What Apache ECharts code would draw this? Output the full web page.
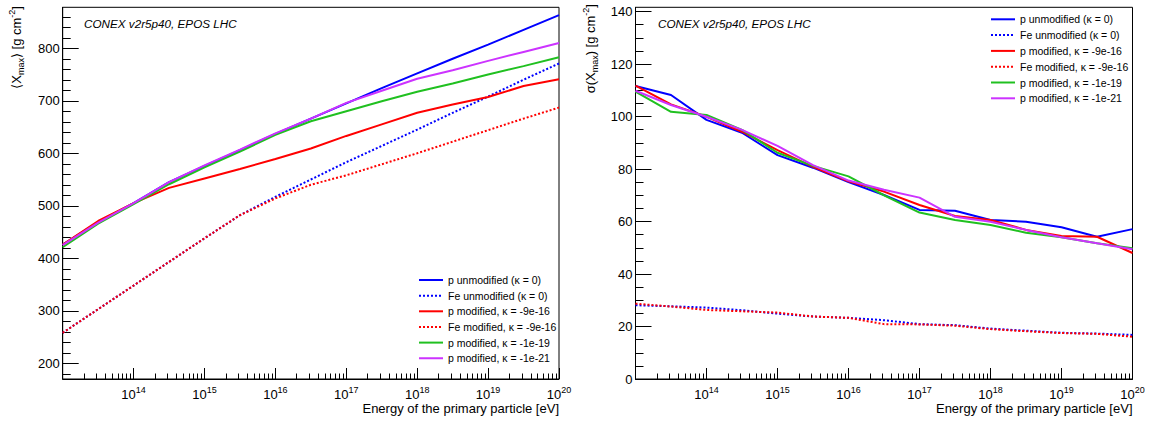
<!DOCTYPE html>
<html><head><meta charset="utf-8">
<script src="https://cdn.jsdelivr.net/npm/echarts@6/dist/echarts.min.js"></script>
<style>html,body{margin:0;padding:0;background:#fff}#c{width:1151px;height:423px}</style>
</head><body><div id="c"></div>
<script>
// ---- data (log10 of primary energy in eV) ----
const energyExp = [13, 13.5, 14, 14.5, 15, 15.5, 16, 16.5, 17, 17.5, 18, 18.5, 19, 19.5, 20];

const seriesNames = [
  'p unmodified (\u03ba = 0)',
  'Fe unmodified (\u03ba = 0)',
  'p modified, \u03ba = -9e-16',
  'Fe modified, \u03ba = -9e-16',
  'p modified, \u03ba = -1e-19',
  'p modified, \u03ba = -1e-21'
];

// <Xmax> [g cm^-2]
const xmaxPUnmod   = [426, 469, 505, 545, 576, 606, 637, 666, 695, 724, 752, 780, 807, 835, 863];
const xmaxFeUnmod  = [258, 303, 348, 393, 438, 482, 517, 550, 583, 614, 645, 677, 708, 740, 771];
const xmaxPMod916  = [426, 471, 505, 534, 552, 570, 589, 609, 633, 655, 677, 693, 707, 728, 741];
const xmaxFeMod916 = [258, 303, 348, 393, 438, 482, 514, 540, 558, 579, 600, 622, 644, 666, 687];
const xmaxPMod19   = [421, 466, 503, 541, 573, 603, 635, 661, 680, 699, 717, 733, 750, 766, 783];
const xmaxPMod21   = [425, 468, 505, 545, 577, 607, 638, 666, 696, 719, 742, 758, 776, 793, 810];

// sigma(Xmax) [g cm^-2]
const sigPUnmod   = [111.6, 108.2, 98.7, 93.8, 85.3, 80.5, 75.0, 70.1, 64.4, 64.1, 60.6, 59.9, 57.8, 54.2, 57.1];
const sigFeUnmod  = [28.1, 27.7, 27.2, 26.2, 24.9, 23.8, 23.3, 22.4, 20.9, 20.5, 19.2, 18.4, 17.6, 17.3, 16.8];
const sigPMod916  = [111.8, 104.6, 99.9, 94.2, 87.2, 80.8, 75.3, 71.4, 66.3, 62.1, 60.6, 56.8, 54.5, 54.2, 48.0];
const sigFeMod916 = [28.7, 27.6, 26.3, 25.8, 25.3, 23.8, 23.3, 20.9, 20.8, 20.3, 19.0, 18.2, 17.5, 17.2, 16.1];
const sigPMod19   = [109.5, 101.8, 100.6, 94.9, 86.2, 81.2, 77.2, 70.0, 63.4, 60.6, 58.7, 55.7, 54.0, 51.7, 49.8];
const sigPMod21   = [109.8, 104.4, 99.9, 94.9, 88.8, 81.5, 75.6, 72.1, 69.1, 61.8, 59.9, 56.8, 54.0, 51.7, 49.4];

// tick labels
const xMajorExp = [14, 15, 16, 17, 18, 19, 20];
const leftYLabels = [200, 300, 400, 500, 600, 700, 800];
const rightYLabels = [0, 20, 40, 60, 80, 100, 120, 140];

// ---- build ----
const FONT = 'Liberation Sans, Arial, Helvetica, sans-serif';
const energies = energyExp.map(e => Math.pow(10, e));
const xMajor = xMajorExp.map(e => Math.pow(10, e));
const xMinor = [];
for (let k = 13; k < 20; k++) for (let m = 2; m <= 9; m++) xMinor.push(m * Math.pow(10, k));
const leftYMinor = [];
for (let v = 180; v <= 870; v += 20) if (v % 100 !== 0) leftYMinor.push(v);
const rightYMinor = [];
for (let v = 5; v <= 140; v += 5) if (v % 20 !== 0) rightYMinor.push(v);

const styles = [
  {color: '#0000ff', type: 'solid'},
  {color: '#0000ff', type: [2, 2]},
  {color: '#ff0000', type: 'solid'},
  {color: '#ff0000', type: [2, 2]},
  {color: '#20c020', type: 'solid'},
  {color: '#cc33ff', type: 'solid'}
];

function xAxesFor(gi) {
  return [
    {
      type: 'log', logBase: 10, gridIndex: gi, min: 1e13, max: 1e20, position: 'bottom',
      axisLine: {show: true, lineStyle: {color: '#000', width: 1}},
      axisTick: {show: true, inside: true, length: 11, customValues: xMajor, lineStyle: {color: '#000', width: 1}},
      axisLabel: {
        show: true, customValues: xMajor, margin: 6, color: '#000',
        formatter: v => '{b|10}{s|' + Math.round(Math.log10(v)) + '}',
        rich: {
          b: {fontSize: 13, fontFamily: FONT, lineHeight: 18, verticalAlign: 'middle', color: '#000'},
          s: {fontSize: 9, fontFamily: FONT, lineHeight: 10, verticalAlign: 'top', color: '#000'}
        }
      },
      splitLine: {show: false}
    },
    {
      type: 'log', logBase: 10, gridIndex: gi, min: 1e13, max: 1e20, position: 'bottom',
      axisLine: {show: false},
      axisTick: {show: true, inside: true, length: 5.5, customValues: xMinor, lineStyle: {color: '#000', width: 1}},
      axisLabel: {show: false},
      splitLine: {show: false}
    }
  ];
}

function yAxesFor(gi, min, max, labels, minors) {
  return [
    {
      type: 'value', gridIndex: gi, min: min, max: max, position: 'left',
      axisLine: {show: true, lineStyle: {color: '#000', width: 1}},
      axisTick: {show: true, inside: true, length: 16, customValues: labels, lineStyle: {color: '#000', width: 1}},
      axisLabel: {show: true, customValues: labels, margin: 3, fontSize: 13, fontFamily: FONT, color: '#000'},
      splitLine: {show: false}
    },
    {
      type: 'value', gridIndex: gi, min: min, max: max, position: 'left',
      axisLine: {show: false},
      axisTick: {show: true, inside: true, length: 8, customValues: minors, lineStyle: {color: '#000', width: 1}},
      axisLabel: {show: false},
      splitLine: {show: false}
    }
  ];
}

function makeSeries(sets, xi, yi) {
  return sets.map((vals, i) => ({
    name: seriesNames[i], type: 'line', xAxisIndex: xi, yAxisIndex: yi,
    data: energies.map((e, j) => [e, vals[j]]),
    symbol: 'none', showSymbol: false, silent: true,
    lineStyle: {color: styles[i].color, width: 2, type: styles[i].type},
    itemStyle: {color: styles[i].color},
    z: 2 + i
  }));
}

const leftSets = [xmaxPUnmod, xmaxFeUnmod, xmaxPMod916, xmaxFeMod916, xmaxPMod19, xmaxPMod21];
const rightSets = [sigPUnmod, sigFeUnmod, sigPMod916, sigFeMod916, sigPMod19, sigPMod21];

const titleRich = {
  n: {fontSize: 13, fontFamily: FONT, lineHeight: 18, verticalAlign: 'middle', fill: '#000'},
  sub: {fontSize: 9, fontFamily: FONT, lineHeight: 10, verticalAlign: 'bottom', fill: '#000'},
  sup: {fontSize: 9, fontFamily: FONT, lineHeight: 10, verticalAlign: 'top', fill: '#000'}
};

function legendFor(left, top, gap) {
  return {
    orient: 'vertical', left: left, top: top, padding: 0, itemWidth: 24, itemHeight: 12, itemGap: gap,
    selectedMode: false, data: seriesNames,
    itemStyle: {opacity: 0},
    textStyle: {fontSize: 10.5, fontFamily: FONT, color: '#000', lineHeight: 12}
  };
}

const chart = echarts.init(document.getElementById('c'), null, {renderer: 'svg'});
chart.setOption({
  animation: false,
  backgroundColor: '#fff',
  grid: [
    {left: 62.7, top: 7.3, width: 496.3, height: 371.7, show: true, borderColor: '#000', borderWidth: 1, containLabel: false},
    {left: 635.5, top: 7.3, width: 497, height: 371.7, show: true, borderColor: '#000', borderWidth: 1, containLabel: false}
  ],
  xAxis: xAxesFor(0).concat(xAxesFor(1)),
  yAxis: yAxesFor(0, 170, 878, leftYLabels, leftYMinor).concat(yAxesFor(1, 0, 141.6, rightYLabels, rightYMinor)),
  legend: [legendFor(418, 274, 3.65), legendFor(990, 13.3, 3.8)],
  series: makeSeries(leftSets, 0, 0).concat(makeSeries(rightSets, 2, 2)),
  graphic: [
    {type: 'text', x: 16, y: 6, rotation: Math.PI / 2, silent: true,
     style: {text: '{n|\u27e8X}{sub|max}{n|\u27e9 [g cm}{sup|-2}{n|]}', rich: titleRich, align: 'right', verticalAlign: 'middle', fill: '#000'}},
    {type: 'text', x: 590, y: 4, rotation: Math.PI / 2, silent: true,
     style: {text: '{n|\u03c3(X}{sub|max}{n|) [g cm}{sup|-2}{n|]}', rich: titleRich, align: 'right', verticalAlign: 'middle', fill: '#000'}},
    {type: 'text', x: 559, y: 408, silent: true,
     style: {text: 'Energy of the primary particle [eV]', fontSize: 13, fontFamily: FONT, fill: '#000', align: 'right', verticalAlign: 'middle'}},
    {type: 'text', x: 1132.5, y: 408, silent: true,
     style: {text: 'Energy of the primary particle [eV]', fontSize: 13, fontFamily: FONT, fill: '#000', align: 'right', verticalAlign: 'middle'}},
    {type: 'text', x: 84, y: 23, silent: true,
     style: {text: 'CONEX v2r5p40, EPOS LHC', fontSize: 11.7, fontStyle: 'italic', fontFamily: FONT, fill: '#000', align: 'left', verticalAlign: 'middle'}},
    {type: 'text', x: 658, y: 23, silent: true,
     style: {text: 'CONEX v2r5p40, EPOS LHC', fontSize: 11.7, fontStyle: 'italic', fontFamily: FONT, fill: '#000', align: 'left', verticalAlign: 'middle'}}
  ]
});
</script>
</body></html>
